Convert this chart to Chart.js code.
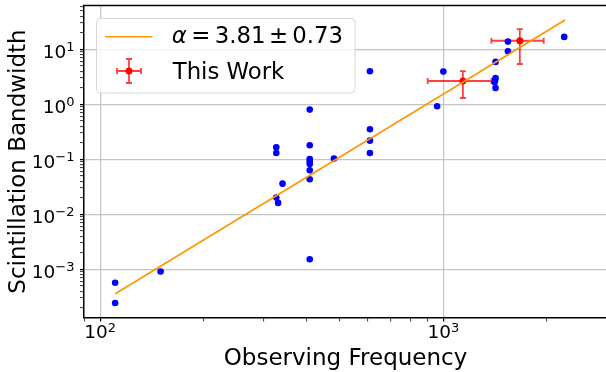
<!DOCTYPE html>
<html>
<head>
<meta charset="utf-8">
<script src="https://cdn.jsdelivr.net/npm/chart.js@4.4.0/dist/chart.umd.min.js"></script>
<style>
html, body { margin: 0; padding: 0; background: #fff; overflow: hidden; }
</style>
</head>
<body>
<!-- wider than the window: the plot runs on past the right edge, like the reference -->
<canvas id="chart" width="640" height="372"></canvas>
<script>
// published measurements (blue dots)
const freqMHz = [110.6, 110.6, 150, 326, 326, 326, 330, 340, 408, 408, 408, 408, 408, 408, 408, 408,
                 480, 611, 611, 611, 611, 959, 1000, 1419, 1419, 1415, 1410, 1419, 1542, 1542, 2249];
const bandwidth = [5.7e-4, 2.44e-4, 9.1e-4, 0.165, 0.130, 0.0201, 0.0161, 0.0361, 0.80, 0.18, 0.101, 0.091, 0.082, 0.063, 0.0433, 0.00152,
                   0.103, 3.98, 0.351, 0.218, 0.130, 0.92, 3.93, 5.89, 3.01, 2.77, 2.51, 1.98, 13.8, 9.2, 16.8];

// this work (red, with errors)
const workFreq = [1140, 1670];
const workFreqErr = [240, 290];
const workBw = [2.65, 14.3];
const workBwErr = [1.35, 8.9];

// power law fit, end points
const fitFreq = [110.7, 2262];
const fitBw = [3.6e-4, 34.1];

// legend text, split the way mathtext spaces it
const fitLabelParts = ['α', '=', '3.81', '±', '0.73'];
const fitLabelLeft = [171.7, 193.3, 215.7, 271, 293.3];
const workLabel = 'This Work';

// ticks: every 1..9 x 10^n gets a mark, decades get a 10^n label
const xTickVals = [90, 100, 200, 300, 400, 500, 600, 700, 800, 900, 1000, 2000];
const xLabelVals = [100, 1000];
const xLabelExp = ['2', '3'];
const yTickVals = [];
for (let e = -4; e <= 1; e++) {
    for (let m = 1; m <= 9; m++) yTickVals.push(m * Math.pow(10, e));
}
const yLabelVals = [1e-3, 1e-2, 1e-1, 1, 10];
const yLabelExp = ['−3', '−2', '−1', '0', '1'];

const FONT = "'DejaVu Sans', sans-serif";
const errColor = 'rgba(255,0,0,0.75)';
const gridColor = '#c4c4c4';

function isDecade(v) {
    const l = Math.log10(v);
    return Math.abs(l - Math.round(l)) < 1e-6;
}

function drawCross(ctx, px, py, x0, x1, y0, y1, cap) {
    ctx.beginPath();
    ctx.moveTo(x0, py); ctx.lineTo(x1, py);
    ctx.moveTo(px, y0); ctx.lineTo(px, y1);
    ctx.moveTo(x0, py - cap); ctx.lineTo(x0, py + cap);
    ctx.moveTo(x1, py - cap); ctx.lineTo(x1, py + cap);
    ctx.moveTo(px - cap, y0); ctx.lineTo(px + cap, y0);
    ctx.moveTo(px - cap, y1); ctx.lineTo(px + cap, y1);
    ctx.stroke();
}

const errorBars = {
    id: 'errorBars',
    beforeDatasetsDraw(chart) {
        const {ctx, scales: {x, y}} = chart;
        ctx.save();
        ctx.strokeStyle = errColor;
        ctx.lineWidth = 1.8;
        for (let i = 0; i < workFreq.length; i++) {
            drawCross(ctx,
                x.getPixelForValue(workFreq[i]), y.getPixelForValue(workBw[i]),
                x.getPixelForValue(workFreq[i] - workFreqErr[i]), x.getPixelForValue(workFreq[i] + workFreqErr[i]),
                y.getPixelForValue(workBw[i] - workBwErr[i]), y.getPixelForValue(workBw[i] + workBwErr[i]), 3);
        }
        ctx.restore();
    }
};

// 10^n tick labels with a real superscript
function powerLabel(ctx, exp, anchorX, baseY, align) {
    ctx.font = '18.5px ' + FONT;
    const wb = ctx.measureText('10').width;
    ctx.font = '13px ' + FONT;
    const we = ctx.measureText(exp).width;
    const start = align === 'center' ? anchorX - (wb + we) / 2 : anchorX - wb - we;
    ctx.font = '18.5px ' + FONT;
    ctx.fillText('10', start, baseY);
    ctx.font = '13px ' + FONT;
    ctx.fillText(exp, start + wb, baseY - 6.3);
}

const tickText = {
    id: 'tickText',
    afterDraw(chart) {
        const {ctx, scales: {x, y}} = chart;
        ctx.save();
        ctx.fillStyle = '#000';
        ctx.textAlign = 'left';
        ctx.textBaseline = 'alphabetic';
        xLabelVals.forEach((v, i) => powerLabel(ctx, xLabelExp[i], x.getPixelForValue(v), 338.3, 'center'));
        yLabelVals.forEach((v, i) => powerLabel(ctx, yLabelExp[i], 74.5, y.getPixelForValue(v) + 8.4, 'right'));
        ctx.restore();
    }
};

// top spine + legend box
const frameAndLegend = {
    id: 'frameAndLegend',
    afterDraw(chart) {
        const {ctx, chartArea: a} = chart;
        ctx.save();
        ctx.strokeStyle = '#000';
        ctx.lineWidth = 1.5;
        ctx.beginPath();
        ctx.moveTo(a.left - 0.75, a.top); ctx.lineTo(a.right, a.top);
        ctx.stroke();

        const bx = 96.5, by = 18.5, bw = 258.5, bh = 74.5;
        ctx.beginPath();
        ctx.roundRect(bx, by, bw, bh, 4);
        ctx.fillStyle = 'rgba(255,255,255,0.8)';
        ctx.fill();
        ctx.strokeStyle = '#d6d6d6';
        ctx.lineWidth = 1;
        ctx.stroke();

        ctx.strokeStyle = '#ff9500';
        ctx.lineWidth = 1.6;
        ctx.beginPath();
        ctx.moveTo(105, 36.7); ctx.lineTo(152.5, 36.7);
        ctx.stroke();

        ctx.strokeStyle = errColor;
        ctx.lineWidth = 1.8;
        drawCross(ctx, 129, 71, 117, 141, 59, 83, 3);
        ctx.fillStyle = '#ff0000';
        ctx.beginPath();
        ctx.arc(129, 71, 3.5, 0, Math.PI * 2);
        ctx.fill();

        ctx.fillStyle = '#000';
        ctx.textBaseline = 'alphabetic';
        ctx.textAlign = 'left';
        fitLabelParts.forEach((t, i) => {
            ctx.font = (i === 0 ? 'oblique ' : '') + '22.8px ' + FONT;
            const m = ctx.measureText(t);
            ctx.fillText(t, fitLabelLeft[i] + m.actualBoundingBoxLeft, 42.7);
        });
        ctx.font = '22.8px ' + FONT;
        const m = ctx.measureText(workLabel);
        ctx.fillText(workLabel, 171.7 + m.actualBoundingBoxLeft, 79.3);
        ctx.restore();
    }
};

function gridOpts() {
    return {
        color: c => isDecade(c.tick.value) ? gridColor : 'rgba(0,0,0,0)',
        lineWidth: 1.2,
        tickColor: '#000',
        tickWidth: c => isDecade(c.tick.value) ? 1.3 : 0.8,
        tickLength: 4
    };
}

new Chart(document.getElementById('chart'), {
    type: 'scatter',
    data: {
        datasets: [
            {
                type: 'line',
                data: fitFreq.map((f, i) => ({x: f, y: fitBw[i]})),
                borderColor: '#ff9500',
                borderWidth: 1.6,
                pointRadius: 0,
                fill: false,
                order: 0
            },
            {
                data: freqMHz.map((f, i) => ({x: f, y: bandwidth[i]})),
                backgroundColor: '#0000ff',
                borderWidth: 0,
                pointRadius: 3.3,
                order: 1
            },
            {
                data: workFreq.map((f, i) => ({x: f, y: workBw[i]})),
                backgroundColor: '#ff0000',
                borderWidth: 0,
                pointRadius: 3.5,
                order: 2
            }
        ]
    },
    options: {
        responsive: false,
        animation: false,
        devicePixelRatio: 1,
        layout: {padding: {top: 5.5, right: 33, left: 0, bottom: 0}},
        plugins: {legend: {display: false}, tooltip: {enabled: false}},
        scales: {
            x: {
                type: 'logarithmic',
                min: 89.75,
                max: 2997,
                afterBuildTicks: s => { s.ticks = xTickVals.map(v => ({value: v})); },
                afterFit: s => { s.height = 54.5; },
                ticks: {display: false},
                grid: gridOpts(),
                border: {color: '#000', width: 1.5},
                title: {
                    display: true, text: 'Observing Frequency', color: '#000',
                    font: {family: FONT, size: 23, lineHeight: 1.0}, padding: {top: 0, bottom: 1}
                }
            },
            y: {
                type: 'logarithmic',
                min: 1.33e-4,
                max: 62.5,
                afterBuildTicks: s => { s.ticks = yTickVals.filter(v => v > 1.33e-4 && v < 62.5).map(v => ({value: v})); },
                afterFit: s => { s.width = 84; },
                ticks: {display: false},
                grid: gridOpts(),
                border: {color: '#000', width: 1.5},
                title: {
                    display: true, text: 'Scintillation Bandwidth', color: '#000',
                    font: {family: FONT, size: 23, lineHeight: 1.0}, padding: {top: 8, bottom: 0}
                }
            }
        }
    },
    plugins: [errorBars, tickText, frameAndLegend]
});
</script>
</body>
</html>
